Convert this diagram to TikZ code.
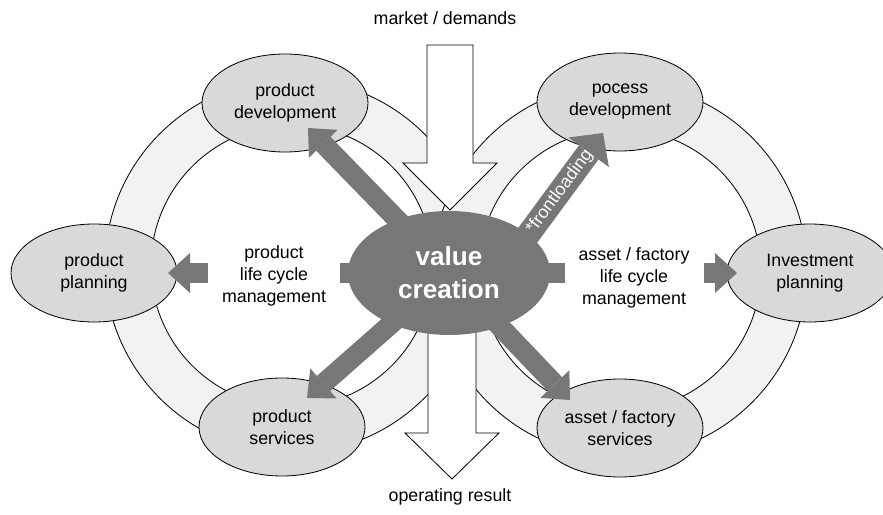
\documentclass[tikz,border=0pt]{standalone}
\usepackage{fontspec}
\setmainfont{Liberation Sans}
\usetikzlibrary{shapes.geometric,arrows.meta}

\definecolor{ringgray}{HTML}{F2F2F2}
\definecolor{phasegray}{HTML}{D9D9D9}
\definecolor{coregray}{HTML}{777777}

\begin{document}
\begin{tikzpicture}[
    x=0.03cm, y=-0.03cm,
    every node/.style={font=\fontsize{15.2}{18.8}\selectfont, align=center},
    ring/.style={draw, line width=0.7pt, fill=ringgray, even odd rule},
    phase/.style={ellipse, draw, line width=0.7pt, fill=phasegray, minimum width=4.98cm, minimum height=2.94cm, inner sep=0pt},
    core/.style={ellipse, fill=coregray, text=white, font=\bfseries\fontsize{22.3}{28}\selectfont, minimum width=6.06cm, minimum height=3.72cm, inner sep=0pt},
    block/.style={draw, line width=0.7pt, fill=white, line join=miter},
    flow/.style={draw=coregray, line width=0.6cm, -{Triangle[width=1.2cm, length=0.66cm, line width=0pt]}},
    bigflow/.style={draw=coregray, line width=0.72cm, -{Triangle[width=1.5cm, length=0.72cm, line width=0pt]}},
    lifecycle/.style={fill=white, inner sep=0pt}
]
\useasboundingbox (0,0) rectangle (883,515);

% Ringe
\coordinate (lc) at (292,266);
\coordinate (rc) at (620,270);
\path[ring] (lc) circle[radius=187] (lc) circle[radius=141];
\path[ring] (rc) circle[radius=187] (rc) circle[radius=141];

% Phasen
\node[phase] (pdev) at (285,103) {product\\development};
\node[phase] (pcdev) at (620,102) {pocess\\development};
\node[phase] (pplan) at (94,273) {product\\planning};
\node[phase] (inv) at (810,273) {Investment\\planning};
\node[phase] (psvc) at (282,427) {product\\services};
\node[phase] (asvc) at (620,428) {asset / factory\\services};

% Markt und Ergebnis
\node (market) at (445,18) {market / demands};
\node (result) at (450,497) {operating result};
\coordinate (mtip) at (450,210);
\coordinate (rtip) at (452,479);
\draw[block] (mtip) -- ++(47,-47) -- ++(-24,0) -- ++(0,-118) -- ++(-46,0) -- ++(0,118) -- ++(-24,0) -- cycle;
\draw[block] (rtip) -- ++(47,-46) -- ++(-23,0) -- ++(0,-150) -- ++(-48,0) -- ++(0,150) -- ++(-23,0) -- cycle;

% Pfeile
\coordinate (vc) at (449,273);
\draw[flow] (vc) -- ([shift={(23,25)}]pdev.center);
\draw[flow] (vc) -- ([shift={(25,-29)}]psvc.center);
\draw[flow] (vc) -- ([shift={(-50,-28)}]asvc.center);
\draw[flow] (vc) -- ([shift={(74,0)}]pplan.center);
\draw[flow] (vc) -- ([shift={(-73,0)}]inv.center);
\draw[bigflow] ([shift={(51,0)}]vc) -- node[pos=0.58, sloped, text=white] {*frontloading} ([shift={(-17,31)}]pcdev.center);

\node[lifecycle, minimum width=3.96cm] (plcm) at (274,276) {product\\life cycle\\management};
\node[lifecycle, minimum width=4.17cm] (alcm) at (634,278) {asset / factory\\life cycle\\management};

\node[core] (value) at (vc) {value\\creation};

\end{tikzpicture}
\end{document}
